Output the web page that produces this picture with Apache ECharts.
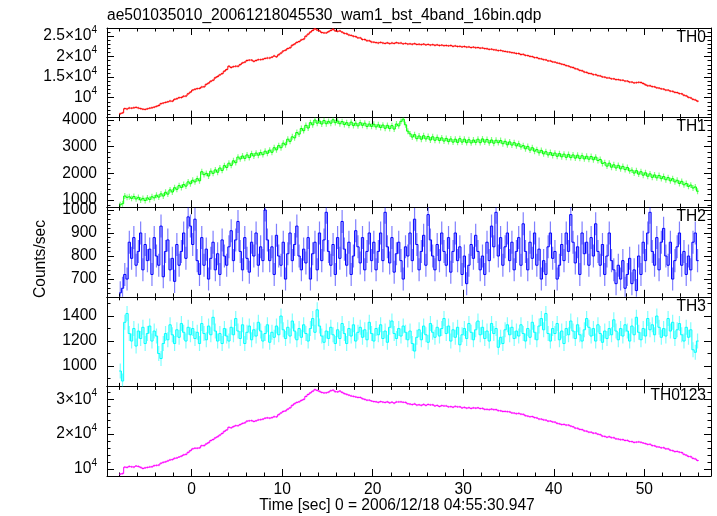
<!DOCTYPE html>
<html><head><meta charset="utf-8">
<script src="https://cdn.jsdelivr.net/npm/echarts@6/dist/echarts.min.js"></script>
<style>html,body{margin:0;padding:0;background:#fff}#c{width:717px;height:516px}</style>
</head><body><div id="c"></div>
<script>
// time bins: centre of first bin and bin width (s)
const t0 = -7.875, dt = 0.25;

const th0 = [
6100,6300,7350,7250,7500,7450,7550,7650,7500,7350,7200,7150,7300,7450,7550,7700,
7900,8100,8550,8700,8850,9000,9200,9150,9600,9750,10000,10050,10350,10400,10950,11350,
11850,12050,12200,12250,12600,12650,13250,13550,14000,14250,14850,15150,15550,15850,16450,16850,
17650,17350,17550,17650,17650,18050,18450,18650,19050,19150,19150,18850,19050,19250,19250,19350,
19550,19650,19650,19850,20150,19950,20450,20850,21350,21550,21950,22150,22750,23050,23450,23650,
24050,24250,24950,25450,25950,26350,26750,26450,26250,25850,25750,25750,26050,26350,26650,26250,
26150,26250,25950,25650,25550,25250,25150,24950,24850,24550,24550,24150,24150,23850,23850,23550,
23500,23400,23300,23450,23300,23200,23350,23150,23300,23200,23400,23250,23300,23100,23200,23050,
23100,23000,23150,22950,23000,22900,23050,22850,22950,22800,22900,22750,22850,22700,22800,22650,
22700,22600,22700,22500,22600,22450,22500,22350,22450,22300,22350,22200,22300,22150,22200,22050,
22100,21950,21900,21750,21800,21650,21600,21450,21500,21350,21250,21150,21100,20950,20900,20750,
20750,20500,20550,20300,20250,20050,20000,19750,19750,19500,19450,19250,19200,18950,18950,18700,
18650,18450,18350,18150,18050,17800,17700,17450,17350,17050,16950,16650,16550,16250,16150,15900,
15850,15600,15600,15350,15300,15050,15000,14800,14800,14600,14600,14400,14400,14250,14250,14050,
14050,13800,13800,13600,13650,13750,13700,13450,13150,12900,12900,12700,12650,12400,12350,12150,
12100,11850,11850,11600,11550,11300,11250,11000,10950,10600,10450,10100,9950,9600,9450,9150];

const th1 = [
820,860,1150,1100,1120,1060,1130,1040,1100,1000,1060,980,1080,1020,1120,1080,
1180,1110,1230,1150,1290,1220,1380,1300,1460,1400,1540,1470,1580,1520,1680,1610,
1740,1680,1800,1720,2060,1950,2000,1900,2080,2000,2130,2040,2200,2110,2290,2220,
2380,2300,2470,2400,2610,2540,2650,2560,2690,2590,2740,2650,2760,2680,2780,2700,
2830,2750,2870,2790,2960,2880,3040,2960,3130,3070,3280,3200,3370,3330,3530,3470,
3680,3600,3800,3700,3900,3820,4000,3880,3960,3850,3980,3860,3950,3880,4010,3900,
3960,3860,3940,3830,3900,3800,3920,3790,3880,3780,3900,3800,3880,3760,3850,3760,
3840,3740,3820,3720,3810,3690,3800,3680,3790,3660,3850,3780,3950,4030,3820,3580,
3480,3360,3450,3300,3400,3280,3410,3290,3380,3250,3370,3240,3350,3230,3330,3210,
3310,3190,3290,3170,3280,3160,3300,3170,3280,3150,3260,3140,3250,3160,3280,3150,
3290,3170,3270,3140,3250,3130,3240,3150,3230,3110,3200,3070,3180,3060,3150,3030,
3110,2990,3040,2920,3010,2870,2960,2830,2890,2770,2860,2730,2810,2690,2780,2670,
2760,2640,2740,2620,2720,2600,2710,2590,2690,2570,2680,2560,2660,2540,2640,2530,
2630,2510,2610,2480,2520,2370,2400,2270,2380,2230,2320,2200,2300,2170,2260,2140,
2220,2090,2120,2010,2100,1970,2060,1930,2020,1890,1980,1850,1940,1830,1920,1800,
1880,1760,1840,1720,1800,1680,1740,1620,1700,1570,1620,1510,1560,1450,1490,1330];

const th2 = [
640,660,720,700,860,790,880,760,820,900,740,850,780,830,720,880,
800,760,930,710,820,870,740,790,690,850,760,820,900,790,970,930,
850,960,780,720,880,760,830,700,790,860,740,810,720,870,800,760,
840,910,780,870,950,820,740,880,790,730,860,800,900,760,840,780,
1000,870,780,840,720,890,800,760,860,700,810,900,780,850,930,800,
740,830,770,880,700,810,860,740,900,780,870,990,820,760,850,720,
880,790,950,830,760,860,720,800,910,840,770,880,740,820,900,780,
860,740,820,900,780,990,840,770,880,730,810,860,780,700,840,800,
900,780,960,850,740,820,890,760,980,870,800,740,850,780,900,820,
760,880,730,820,900,780,840,720,800,680,760,850,790,890,820,740,
800,720,860,780,930,840,990,800,880,760,840,900,780,860,740,820,
880,760,940,820,740,860,790,900,760,830,700,780,720,840,900,790,
820,700,760,850,780,900,820,980,860,770,840,720,900,810,860,760,
880,800,940,820,760,850,720,800,900,780,740,680,760,700,780,660,
720,790,680,740,650,800,720,860,780,900,990,820,760,880,740,860,
920,800,760,860,700,780,840,900,760,820,720,800,740,860,900,780];

const th3 = [
960,880,1350,1420,1260,1200,1300,1160,1280,1220,1310,1180,1260,1320,1200,1280,
1240,1100,1060,1180,1260,1210,1330,1250,1180,1290,1230,1340,1270,1200,1310,1250,
1300,1220,1270,1180,1340,1260,1210,1320,1250,1390,1280,1200,1260,1180,1300,1240,
1200,1310,1250,1380,1280,1220,1330,1180,1270,1320,1210,1290,1240,1350,1280,1200,
1260,1330,1190,1270,1230,1320,1250,1400,1290,1220,1310,1240,1360,1280,1210,1300,
1230,1330,1260,1200,1300,1380,1270,1450,1320,1240,1190,1280,1220,1310,1250,1180,
1290,1220,1340,1260,1180,1300,1240,1330,1200,1270,1310,1230,1290,1210,1350,1260,
1200,1300,1250,1330,1220,1280,1190,1310,1360,1260,1220,1300,1240,1320,1270,1210,
1280,1180,1120,1230,1290,1210,1320,1250,1190,1340,1270,1230,1310,1240,1300,1380,
1260,1320,1200,1290,1230,1310,1170,1250,1300,1220,1340,1270,1210,1290,1360,1250,
1310,1220,1280,1200,1340,1260,1300,1150,1230,1180,1290,1330,1250,1310,1220,1280,
1240,1330,1260,1200,1300,1230,1350,1270,1210,1320,1380,1290,1420,1260,1200,1300,
1260,1340,1210,1280,1180,1300,1250,1360,1280,1220,1330,1250,1200,1290,1380,1310,
1240,1300,1200,1330,1260,1190,1280,1220,1300,1250,1370,1280,1210,1300,1240,1330,
1280,1200,1320,1250,1390,1270,1210,1300,1240,1380,1290,1330,1250,1400,1310,1230,
1300,1240,1380,1280,1350,1220,1290,1340,1250,1200,1310,1230,1290,1130,1110,1200];

const th0123 = [
8520,8680,10520,10470,10730,10630,10560,10860,10730,10470,10150,10330,10450,10580,10640,10950,
11040,11130,11650,11910,12060,12310,12600,12700,13070,13160,13440,13680,14040,14200,14770,15280,
15790,15960,15960,16060,16700,16710,17190,17550,18170,18460,18930,19260,19730,20190,20810,21190,
21960,21830,22160,22440,22410,22760,23070,23260,23730,23830,23880,23640,23830,24070,24150,24300,
24570,24690,24580,24730,25000,24960,25600,26070,26510,26680,27160,27560,28260,28730,29100,29280,
29670,29960,30810,31380,31860,32310,32760,32560,32290,31960,31820,31870,32070,32460,32620,32180,
32120,32370,31990,31630,31430,31190,30950,30840,30670,30530,30520,30170,29980,29740,29750,29510,
29350,29290,29120,29350,29200,29100,29270,28970,29170,28910,29230,29240,29260,29150,29100,28720,
28640,28490,28670,28350,28430,28270,28520,28260,28510,28380,28430,28090,28230,27930,28190,28080,
28090,27840,27900,27730,27980,27820,27850,27520,27680,27460,27580,27380,27560,27450,27570,27350,
27400,27110,27120,27010,27200,27020,27040,26740,26710,26510,26520,26450,26390,26080,26050,25860,
25970,25740,25690,25300,25170,24990,25060,24760,24650,24340,24320,24080,24030,23730,23770,23500,
23450,23110,22970,22750,22790,22600,22610,22310,22120,21740,21680,21350,21300,20940,20850,20570,
20550,20260,20290,19980,19860,19440,19350,19110,19260,18980,18970,18640,18600,18400,18430,18180,
18190,17890,17860,17630,17710,17770,17670,17460,17280,17060,17100,16720,16660,16350,16310,16080,
16110,15790,15780,15390,15270,14990,15030,14840,14730,14220,13970,13590,13520,13050,12880,12440];

// error half-widths (counts/sec)
const errHalf = [280, 110, 50, 60, 320];

const panelNames = ['TH0', 'TH1', 'TH2', 'TH3', 'TH0123'];
const panelValues = [th0, th1, th2, th3, th0123];
const colors = ['#ff0000', '#00ff00', '#0000ff', '#00ffff', '#ff00ff'];

const xMajor = [0, 10, 20, 30, 40, 50];
const xMinorStep = 2;
const xMin = -9.34, xMax = 57.36;
const yMin = [5160, 730, 623, 837, 7990];
const yMax = [26950, 4090, 1012, 1554, 33700];
const yMajor = [[10000, 15000, 20000, 25000], [1000, 2000, 3000, 4000], [700, 800, 900, 1000], [1000, 1200, 1400], [10000, 20000, 30000]];
const yMinorStep = [1000, 200, 20, 100, 2000];

const titleText = 'ae501035010_20061218045530_wam1_bst_4band_16bin.qdp';
const xTitle = 'Time [sec] 0 = 2006/12/18 04:55:30.947';
const yTitle = 'Counts/sec';

const FF = '"Liberation Sans", Arial, Helvetica, sans-serif';
const FS = 15.6;
const L = 107, R = 711, TOP = 28, PH = 89.6;

function stepList(lo, hi, step) {
  const out = [];
  for (let v = Math.ceil(lo / step) * step; v <= hi; v += step) out.push(+v.toFixed(6));
  return out;
}
function sciLabel(v) {
  if (v === 10000) return '{m|10}{s|4}';
  return '{m|' + (v / 10000) + '×10}{s|4}';
}

const grids = [], xAxes = [], yAxes = [], series = [];
const xMinor = stepList(xMin, xMax, xMinorStep);
const tickStyle = { color: '#000', width: 1 };

for (let k = 0; k < 5; k++) {
  grids.push({ left: L, width: R - L, top: TOP + k * PH, height: PH, show: false });
  const base = { type: 'value', gridIndex: k, min: xMin, max: xMax, splitLine: { show: false } };
  xAxes.push(Object.assign({}, base, {
    position: 'bottom',
    axisLine: { show: true, onZero: false, lineStyle: { color: '#000', width: 1 } },
    axisTick: { show: true, inside: true, length: 7, customValues: xMajor, lineStyle: tickStyle },
    axisLabel: { show: k === 4, customValues: xMajor, margin: 6, color: '#000', fontSize: FS, fontFamily: FF }
  }));
  xAxes.push(Object.assign({}, base, {
    position: 'bottom',
    axisLine: { show: false, onZero: false },
    axisTick: { show: true, inside: true, length: 3.5, customValues: xMinor, lineStyle: tickStyle },
    axisLabel: { show: false }
  }));
  xAxes.push(Object.assign({}, base, {
    position: 'top',
    axisLine: { show: true, onZero: false, lineStyle: { color: '#000', width: 1 } },
    axisTick: { show: true, inside: true, length: 7, customValues: xMajor, lineStyle: tickStyle },
    axisLabel: { show: false }
  }));
  xAxes.push(Object.assign({}, base, {
    position: 'top',
    axisLine: { show: false, onZero: false },
    axisTick: { show: true, inside: true, length: 3.5, customValues: xMinor, lineStyle: tickStyle },
    axisLabel: { show: false }
  }));

  const yb = { type: 'value', gridIndex: k, min: yMin[k], max: yMax[k], splitLine: { show: false } };
  const yMinor = stepList(yMin[k], yMax[k], yMinorStep[k]);
  const sci = (k === 0 || k === 4);
  yAxes.push(Object.assign({}, yb, {
    position: 'left',
    axisLine: { show: true, onZero: false, lineStyle: { color: '#000', width: 1 } },
    axisTick: { show: true, inside: true, length: 7, customValues: yMajor[k], lineStyle: tickStyle },
    axisLabel: {
      show: true, customValues: yMajor[k], margin: 10, color: '#000', fontSize: FS, fontFamily: FF,
      formatter: sci ? sciLabel : (v) => String(v),
      rich: {
        m: { fontSize: FS, fontFamily: FF, color: '#000', lineHeight: 22 },
        s: { fontSize: 10, fontFamily: FF, color: '#000', lineHeight: 10, verticalAlign: 'top' }
      }
    }
  }));
  yAxes.push(Object.assign({}, yb, {
    position: 'left',
    axisLine: { show: false, onZero: false },
    axisTick: { show: true, inside: true, length: 3.5, customValues: yMinor, lineStyle: tickStyle },
    axisLabel: { show: false }
  }));
  yAxes.push(Object.assign({}, yb, {
    position: 'right',
    axisLine: { show: true, onZero: false, lineStyle: { color: '#000', width: 1 } },
    axisTick: { show: true, inside: true, length: 7, customValues: yMajor[k], lineStyle: tickStyle },
    axisLabel: { show: false }
  }));
  yAxes.push(Object.assign({}, yb, {
    position: 'right',
    axisLine: { show: false, onZero: false },
    axisTick: { show: true, inside: true, length: 3.5, customValues: yMinor, lineStyle: tickStyle },
    axisLabel: { show: false }
  }));

  const vals = panelValues[k];
  const data = vals.map((v, i) => [t0 + i * dt, v, i > 0 ? vals[i - 1] : v, i]);
  const col = colors[k], e = errHalf[k];
  series.push({
    type: 'custom', xAxisIndex: 4 * k, yAxisIndex: 4 * k, clip: true, silent: true,
    encode: { x: 0, y: 1 },
    data: data,
    renderItem: function (params, api) {
      const t = api.value(0), v = api.value(1), pv = api.value(2), idx = api.value(3);
      const pL = api.coord([t - dt / 2, v]);
      const pR = api.coord([t + dt / 2, v]);
      const pP = api.coord([t - dt / 2, pv]);
      const eT = api.coord([t, v + e]);
      const eB = api.coord([t, v - e]);
      const pts = idx > 0 ? [pP, pL, pR] : [pL, pR];
      return {
        type: 'group',
        children: [
          { type: 'line', shape: { x1: eT[0], y1: eT[1], x2: eB[0], y2: eB[1] },
            style: { stroke: col, lineWidth: 1.2, opacity: 0.5 } },
          { type: 'polyline', shape: { points: pts },
            style: { stroke: col, lineWidth: 1, fill: null } }
        ]
      };
    }
  });
}

const graphics = [
  { type: 'text', x: L, y: 15.5, style: { text: titleText, font: FS + 'px ' + FF, fill: '#000', align: 'left', verticalAlign: 'middle' } },
  { type: 'text', x: 41, y: 259, rotation: Math.PI / 2, style: { text: yTitle, font: FS + 'px ' + FF, fill: '#000', align: 'center', verticalAlign: 'middle' } },
  { type: 'text', x: 397, y: 506, style: { text: xTitle, font: FS + 'px ' + FF, fill: '#000', align: 'center', verticalAlign: 'middle' } }
];
for (let k = 0; k < 5; k++) {
  graphics.push({ type: 'text', x: 706, y: TOP + k * PH + 9.5, z: 100,
    style: { text: panelNames[k], font: FS + 'px ' + FF, fill: '#000', align: 'right', verticalAlign: 'middle' } });
}

const chart = echarts.init(document.getElementById('c'), null, { renderer: 'canvas' });
chart.setOption({
  animation: false,
  backgroundColor: '#fff',
  grid: grids,
  xAxis: xAxes,
  yAxis: yAxes,
  series: series,
  graphic: graphics
});
</script>
</body></html>
